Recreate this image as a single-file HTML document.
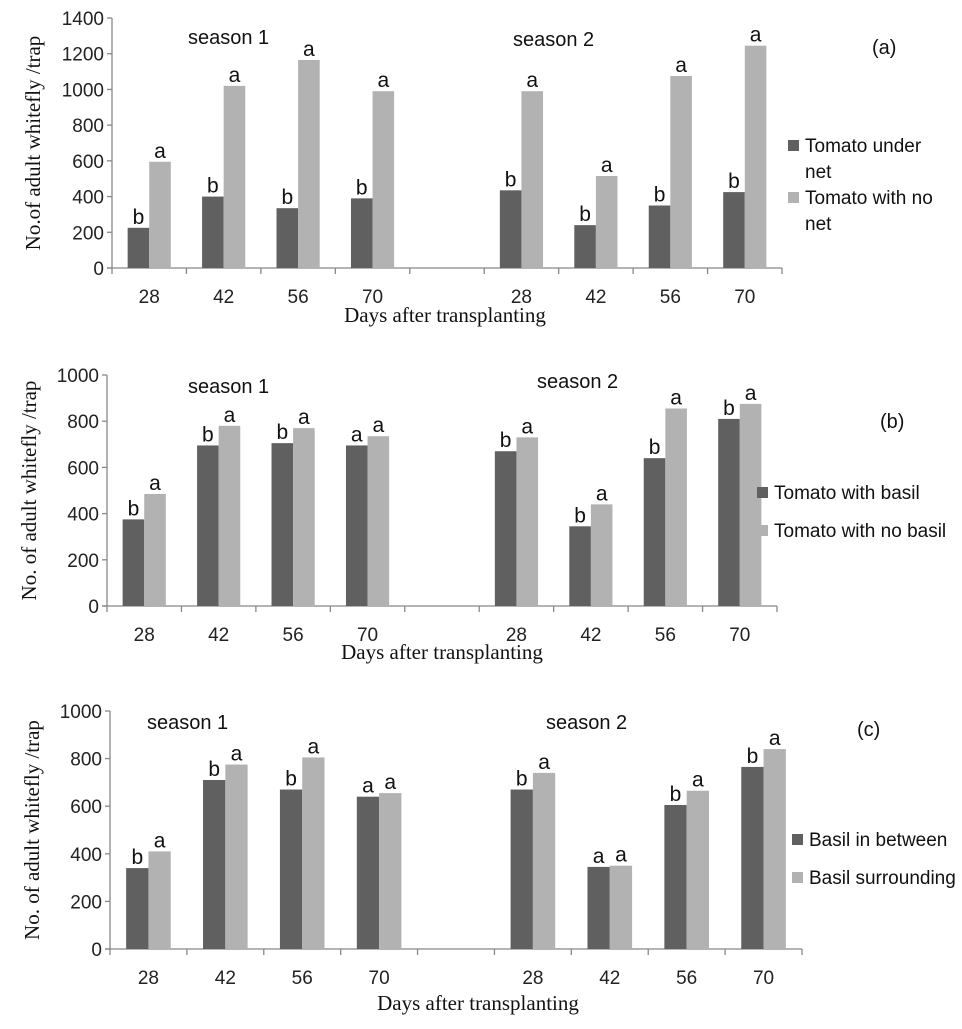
<!DOCTYPE html>
<html><head><meta charset="utf-8"><style>
body{margin:0;background:#fff;}
svg text{font-family:"Liberation Sans",sans-serif;}
</style></head><body>
<svg id="chart" width="962" height="1024" viewBox="0 0 962 1024"></svg>
<script>
const categories=["28","42","56","70","","28","42","56","70"];
const aDark=[225,400,335,390,null,435,240,350,425];
const aLight=[595,1020,1165,990,null,990,515,1075,1245];
const aDarkL=["b","b","b","b","","b","b","b","b"];
const aLightL=["a","a","a","a","","a","a","a","a"];
const aTicks=[0,200,400,600,800,1000,1200,1400];
const bDark=[375,695,705,695,null,670,345,640,810];
const bLight=[485,780,770,735,null,730,440,855,875];
const bDarkL=["b","b","b","a","","b","b","b","b"];
const bLightL=["a","a","a","a","","a","a","a","a"];
const bTicks=[0,200,400,600,800,1000];
const cDark=[340,710,670,640,null,670,345,605,765];
const cLight=[410,775,805,655,null,740,350,665,840];
const cDarkL=["b","b","b","a","","b","a","b","b"];
const cLightL=["a","a","a","a","","a","a","a","a"];
const cTicks=[0,200,400,600,800,1000];

const NS="http://www.w3.org/2000/svg";
const svg=document.getElementById('chart');
function mk(tag,attrs,parent,txt){const e=document.createElementNS(NS,tag);for(const k in attrs)e.setAttribute(k,attrs[k]);if(txt!==undefined)e.textContent=txt;(parent||svg).appendChild(e);return e;}

function panel(p){
  const g=mk('g',{});
  
  
  const x0=p.x0,x1=p.x1,yTop=p.yTop,yZero=p.yZero,max=p.ticks[p.ticks.length-1];
  const slot=(x1-x0)/categories.length;
  const y=v=>yZero-(v/max)*(yZero-yTop);
  const xc=i=>x0+slot*(i+0.5);
  const ya=mk('line',{x1:x0,y1:yTop,x2:x0,y2:yZero,stroke:'#888','stroke-width':1.3},g);
  
  const xa=mk('line',{x1:x0-5,y1:yZero,x2:x1,y2:yZero,stroke:'#888','stroke-width':1.3},g);
  
  p.ticks.forEach(t=>{
    mk('line',{x1:x0-5,y1:y(t),x2:x0,y2:y(t),stroke:'#888','stroke-width':1.3},g);
    const tl=mk('text',{x:x0-8,y:y(t)+7,'text-anchor':'end','font-size':19,fill:'#222'},g,String(t));
    
  });
  for(let i=0;i<=categories.length;i++){
    mk('line',{x1:x0+slot*i,y1:yZero,x2:x0+slot*i,y2:yZero+6,stroke:'#888','stroke-width':1.3},g);
  }
  categories.forEach((c,i)=>{
    if(!c)return;
    const tl=mk('text',{x:xc(i),y:yZero+35,'text-anchor':'middle','font-size':19,fill:'#222'},g,c);
    
    const bw=slot*0.29;
    [[p.dark,p.darkL,'#606060',-bw],[p.light,p.lightL,'#b2b2b2',0]].forEach(([arr,lab,col,off],s)=>{
      const v=arr[i];
      const r=mk('rect',{x:xc(i)+off,y:y(v),width:bw,height:yZero-y(v),fill:col},g);
      
      
      const t=mk('text',{x:xc(i)+off+bw/2,y:y(v)-4,'text-anchor':'middle','font-size':21,fill:'#111'},g,lab[i]);
      
      
    });
  });
  const yt=mk('text',{transform:`translate(${p.ytx},${(yTop+yZero)/2}) rotate(-90)`,'text-anchor':'middle','font-size':21,fill:'#111',style:'font-family:"Liberation Serif",serif'},g,p.ytitle);
  
  const xt=mk('text',{x:p.xtx,y:p.xty,'text-anchor':'middle','font-size':21,fill:'#111',style:'font-family:"Liberation Serif",serif'},g,'Days after transplanting');
  
  p.seasons.forEach((s,k)=>{
    const st=mk('text',{x:s[0],y:s[1],'font-size':20,fill:'#111'},g,'season '+(k+1));
    
  });
  const pl=mk('text',{x:p.lab[0],y:p.lab[1],'font-size':20,fill:'#111'},g,'('+p.id+')');
  
  p.legend.forEach((L,k)=>{
    const sq=mk('rect',{x:p.lx,y:L.y-12,width:11,height:11,fill:k?'#b2b2b2':'#606060'},g);
    
    L.lines.forEach((ln,j)=>{
      const lt=mk('text',{x:p.lx+17,y:L.y+j*26,'font-size':19,fill:'#111'},g,ln);
      
    });
  });
}
panel({id:'a',x0:112,x1:782,yTop:18,yZero:268,ticks:aTicks,dark:aDark,light:aLight,darkL:aDarkL,lightL:aLightL,
  ytitle:'No.of adult whitefly /trap',ytx:40,xtx:445,xty:322,seasons:[[188,44],[513,46]],lab:[872,54],
  lx:788,legend:[{y:152,lines:['Tomato under','net']},{y:204,lines:['Tomato with no','net']}]});
panel({id:'b',x0:107,x1:777,yTop:375,yZero:606,ticks:bTicks,dark:bDark,light:bLight,darkL:bDarkL,lightL:bLightL,
  ytitle:'No. of adult whitefly /trap',ytx:36,xtx:442,xty:659,seasons:[[188,393],[537,388]],lab:[880,428],
  lx:757,legend:[{y:499,lines:['Tomato with basil']},{y:537,lines:['Tomato with no basil']}]});
panel({id:'c',x0:110,x1:802,yTop:711,yZero:949,ticks:cTicks,dark:cDark,light:cLight,darkL:cDarkL,lightL:cLightL,
  ytitle:'No. of adult whitefly /trap',ytx:39,xtx:478,xty:1010,seasons:[[147,729],[546,729]],lab:[857,736],
  lx:792,legend:[{y:846,lines:['Basil in between']},{y:884,lines:['Basil surrounding']}]});
</script>
</body></html>
